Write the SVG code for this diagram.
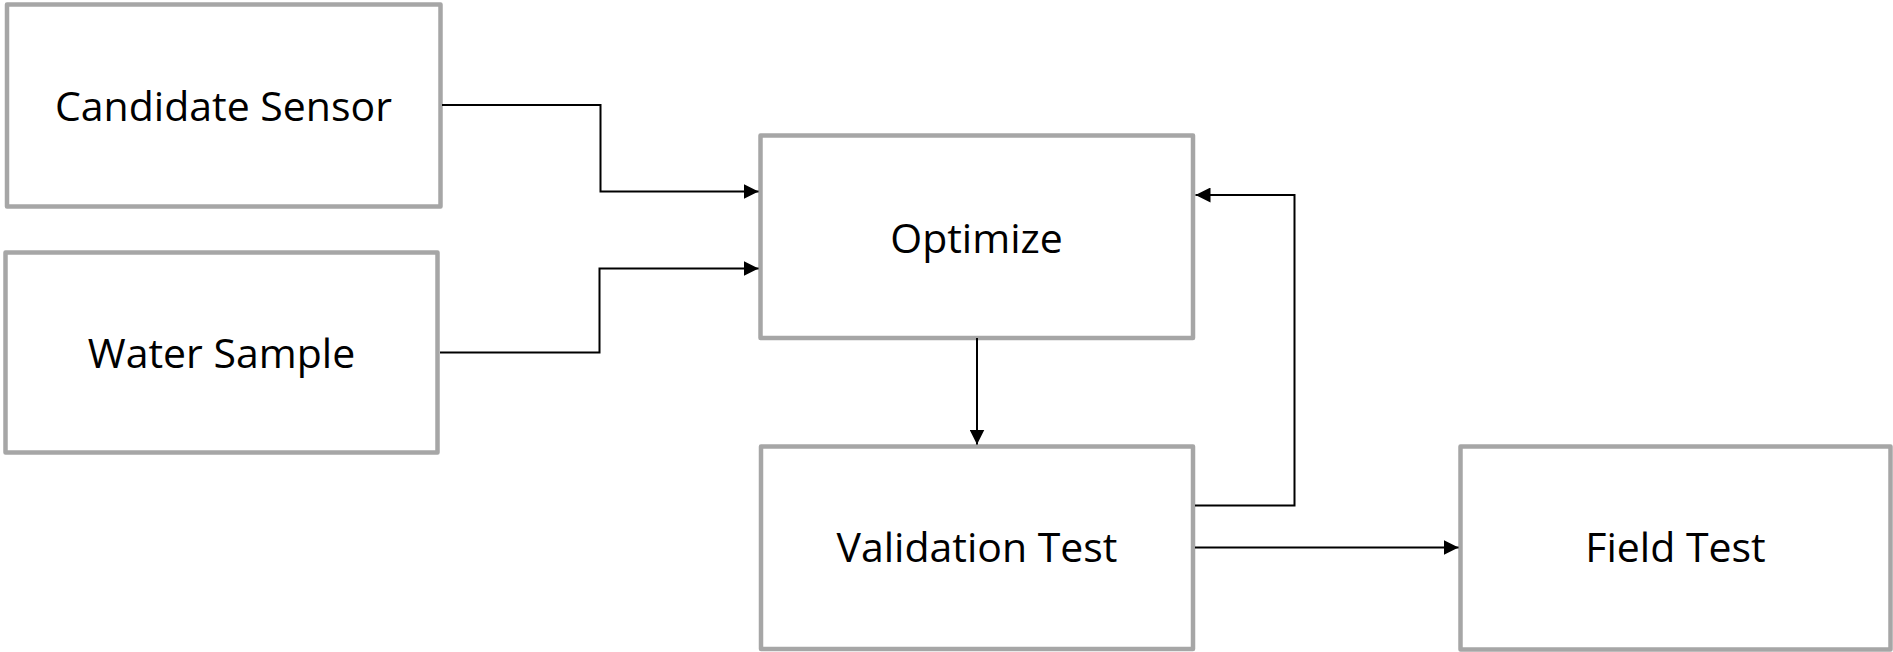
<svg xmlns="http://www.w3.org/2000/svg" width="1893" height="652" viewBox="0 0 1893 652">
  <style>
    .box { fill: #FFFFFF; stroke: #A6A6A6; stroke-width: 4.5; stroke-linejoin: round; }
    .label { font-family: "Open Sans", "Liberation Sans", sans-serif; font-size: 41px; fill: #000000; text-anchor: middle; }
    .wire { fill: none; stroke: #000000; stroke-width: 2; }
  </style>
  <defs>
    <marker id="arrow" viewBox="0 0 15 15" refX="15" refY="7.5" markerWidth="15" markerHeight="15" markerUnits="userSpaceOnUse" orient="auto">
      <path d="M0,0 L15,7.5 L0,15 z" fill="#000000"/>
    </marker>
  </defs>
  <rect width="1893" height="652" fill="#FFFFFF"/>

  <g id="node-candidate-sensor">
    <rect class="box" x="7" y="4.5" width="433.5" height="202"/>
    <text class="label" x="223.5" y="121">Candidate Sensor</text>
  </g>

  <g id="node-water-sample">
    <rect class="box" x="5.5" y="252.5" width="432" height="200"/>
    <text class="label" x="221.5" y="368">Water Sample</text>
  </g>

  <g id="node-optimize">
    <rect class="box" x="760.5" y="135.5" width="432.5" height="202.5"/>
    <text class="label" x="976.5" y="252.5">Optimize</text>
  </g>

  <g id="node-validation-test">
    <rect class="box" x="761" y="446.5" width="432" height="202.5"/>
    <text class="label" x="977" y="561.5">Validation Test</text>
  </g>

  <g id="node-field-test">
    <rect class="box" x="1460.5" y="446.5" width="430" height="203"/>
    <text class="label" x="1675.5" y="561.5">Field Test</text>
  </g>

  <g id="connectors">
    <polyline class="wire" points="442,105 600.5,105 600.5,191.5 758.5,191.5" marker-end="url(#arrow)"/>
    <polyline class="wire" points="440,352.5 599.5,352.5 599.5,268.5 758.5,268.5" marker-end="url(#arrow)"/>
    <line class="wire" x1="977" y1="338" x2="977" y2="444.5" marker-end="url(#arrow)"/>
    <polyline class="wire" points="1195,505.5 1294.5,505.5 1294.5,195 1195.5,195" marker-end="url(#arrow)"/>
    <line class="wire" x1="1195" y1="547.5" x2="1458.5" y2="547.5" marker-end="url(#arrow)"/>
  </g>
</svg>
